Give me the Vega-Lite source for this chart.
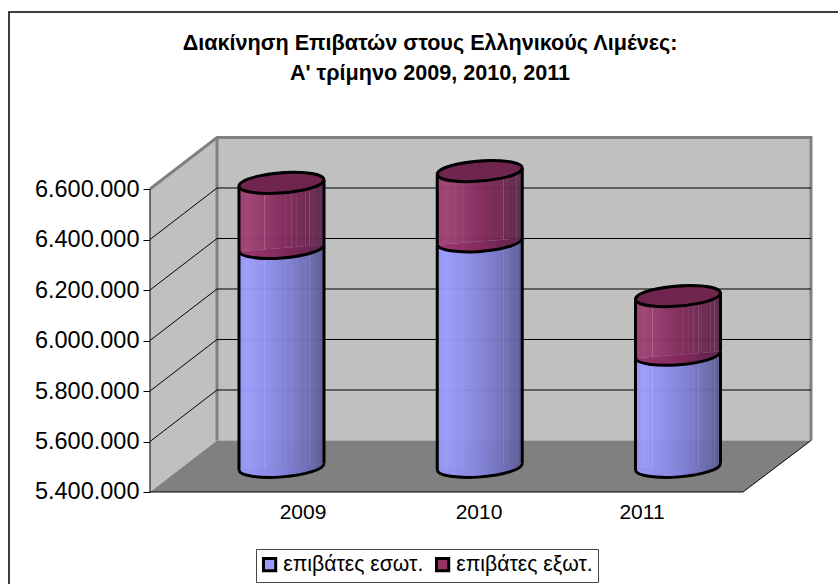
{
"$schema":"https://vega.github.io/schema/vega-lite/v6.json",
"width":838,"height":584,"padding":0,"autosize":"none","background":"white",
"config":{"view":{"stroke":null},"font":"Liberation Sans"},
"title":{"text":["Διακίνηση Επιβατών στους Ελληνικούς Λιμένες:","Α' τρίμηνο 2009, 2010, 2011"],"font":"Liberation Sans","fontSize":21.6,"fontWeight":"bold","color":"black","anchor":"middle","frame":"group","dx":11,"offset":-85,"lineHeight":30},
"datasets":{
"cylinders":[
{"x":2009,"series":"επιβάτες εσωτ.","start":5400000,"end":6267000},
{"x":2009,"series":"επιβάτες εξωτ.","start":6267000,"end":6525000},
{"x":2010,"series":"επιβάτες εσωτ.","start":5400000,"end":6293000},
{"x":2010,"series":"επιβάτες εξωτ.","start":6293000,"end":6572000},
{"x":2011,"series":"επιβάτες εσωτ.","start":5400000,"end":5844000},
{"x":2011,"series":"επιβάτες εξωτ.","start":5844000,"end":6077000}],
"bodies":[
{"c":"2009a","series":"επιβάτες εσωτ.","x":2008.7856,"y":6254000,"y2":5387000},
{"c":"2009a","series":"επιβάτες εσωτ.","x":2009.2144,"y":6280000,"y2":5413000},
{"c":"2009b","series":"επιβάτες εξωτ.","x":2008.7856,"y":6512000,"y2":6254000},
{"c":"2009b","series":"επιβάτες εξωτ.","x":2009.2144,"y":6538000,"y2":6280000},
{"c":"2010a","series":"επιβάτες εσωτ.","x":2009.7856,"y":6280000,"y2":5387000},
{"c":"2010a","series":"επιβάτες εσωτ.","x":2010.2144,"y":6306000,"y2":5413000},
{"c":"2010b","series":"επιβάτες εξωτ.","x":2009.7856,"y":6559000,"y2":6280000},
{"c":"2010b","series":"επιβάτες εξωτ.","x":2010.2144,"y":6585000,"y2":6306000},
{"c":"2011a","series":"επιβάτες εσωτ.","x":2010.7856,"y":5831000,"y2":5387000},
{"c":"2011a","series":"επιβάτες εσωτ.","x":2011.2144,"y":5857000,"y2":5413000},
{"c":"2011b","series":"επιβάτες εξωτ.","x":2010.7856,"y":6064000,"y2":5831000},
{"c":"2011b","series":"επιβάτες εξωτ.","x":2011.2144,"y":6090000,"y2":5857000}],
"sideWall":[{"x":2008.3367,"y":6600000,"y2":5400000},{"x":2008.6747,"y":6804000,"y2":5604000}],
"backWall":[{"x":2008.6747,"y":6804000,"y2":5604000},{"x":2011.6709,"y":6804000,"y2":5604000}],
"floor":[{"x":2008.3367,"y":5400000,"y2":5400000},{"x":2008.6747,"y":5604000,"y2":5400000},{"x":2011.3279,"y":5604000,"y2":5400000},{"x":2011.6709,"y":5604000,"y2":5604000}],
"grid":[
{"v":6400000,"x":2008.3367,"y":6400000},{"v":6400000,"x":2008.6747,"y":6604000},{"v":6400000,"x":2011.6709,"y":6604000},
{"v":6200000,"x":2008.3367,"y":6200000},{"v":6200000,"x":2008.6747,"y":6404000},{"v":6200000,"x":2011.6709,"y":6404000},
{"v":6000000,"x":2008.3367,"y":6000000},{"v":6000000,"x":2008.6747,"y":6204000},{"v":6000000,"x":2011.6709,"y":6204000},
{"v":5800000,"x":2008.3367,"y":5800000},{"v":5800000,"x":2008.6747,"y":6004000},{"v":5800000,"x":2011.6709,"y":6004000},
{"v":5600000,"x":2008.3367,"y":5600000},{"v":5600000,"x":2008.6747,"y":5804000},{"v":5600000,"x":2011.6709,"y":5804000}],
"wallEdge":[
{"k":"outer","o":1,"x":2008.3367,"y":6600000},{"k":"outer","o":2,"x":2008.6747,"y":6804000},{"k":"outer","o":3,"x":2011.6709,"y":6804000},{"k":"outer","o":4,"x":2011.6709,"y":5604000},
{"k":"corner","o":1,"x":2008.6747,"y":6804000},{"k":"corner","o":2,"x":2008.6747,"y":5604000}],
"floorEdge":[
{"k":"a","o":1,"x":2008.3367,"y":6600000},{"k":"a","o":2,"x":2008.3367,"y":5400000},{"k":"a","o":3,"x":2011.3279,"y":5400000},{"k":"a","o":4,"x":2011.6709,"y":5604000}],
"frame":[{"o":1,"x":2007.6255,"y":5035643},{"o":2,"x":2007.6255,"y":7300992},{"o":3,"x":2011.8071,"y":7300992}],
"yearLabels":[{"x":2009.1085,"y":5316830,"label":"2009"},{"x":2009.9962,"y":5316830,"label":"2010"},{"x":2010.8184,"y":5316830,"label":"2011"}]
},
"encoding":{
"x":{"field":"x","type":"quantitative","axis":null,"scale":{"domain":[2007.5801,2011.8071],"nice":false,"zero":false}},
"y":{"field":"y","type":"quantitative","scale":{"domain":[5035643,7348517],"nice":false,"zero":false},
"axis":{"title":null,"orient":"left","offset":-150,"domain":false,"grid":false,"values":[5400000,5600000,5800000,6000000,6200000,6400000,6600000],"labelExpr":"replace(format(datum.value,',d'),/,/g,'.')","labelFont":"Liberation Sans","labelFontSize":23.5,"labelColor":"black","labelPadding":4,"tickColor":"black","tickSize":7,"tickWidth":1}}
},
"layer":[
{"data":{"name":"frame"},"mark":{"type":"line","color":"black","strokeWidth":1.5},"encoding":{"order":{"field":"o","type":"quantitative"}}},
{"data":{"name":"sideWall"},"mark":{"type":"area","color":"#c0c0c0"},"encoding":{"y2":{"field":"y2"}}},
{"data":{"name":"backWall"},"mark":{"type":"area","color":"#c0c0c0"},"encoding":{"y2":{"field":"y2"}}},
{"data":{"name":"floor"},"mark":{"type":"area","color":"#808080"},"encoding":{"y2":{"field":"y2"}}},
{"data":{"name":"wallEdge"},"mark":{"type":"line","color":"#808080","strokeWidth":3},"encoding":{"detail":{"field":"k"},"order":{"field":"o","type":"quantitative"}}},
{"data":{"name":"grid"},"mark":{"type":"line","color":"black","strokeWidth":1},"encoding":{"detail":{"field":"v"}}},
{"data":{"name":"floorEdge"},"mark":{"type":"line","color":"black","strokeWidth":1},"encoding":{"detail":{"field":"k"},"order":{"field":"o","type":"quantitative"}}},
{"data":{"name":"yearLabels"},"mark":{"type":"text","font":"Liberation Sans","fontSize":21,"color":"black","align":"center","baseline":"middle"},"encoding":{"text":{"field":"label"}}},
{"data":{"name":"cylinders"},"mark":{"type":"point","filled":true,"size":0,"opacity":1},
 "encoding":{"y":{"field":"end"},"color":{"field":"series","type":"nominal","scale":{"domain":["επιβάτες εσωτ.","επιβάτες εξωτ."],"range":["#9999ff","#993366"]},
 "legend":{"title":null,"orient":"none","legendX":256,"legendY":549,"direction":"horizontal","columns":2,"padding":5,"columnPadding":6,"fillColor":"white","strokeColor":"#444444","symbolType":"square","symbolSize":150,"symbolStrokeColor":"black","symbolStrokeWidth":3,"symbolOpacity":1,"symbolOffset":-2,"labelFont":"Liberation Sans","labelFontSize":21.2,"labelColor":"black","labelOffset":3,"labelLimit":300}}}},
{"data":{"name":"cylinders"},"transform":[{"filter":"datum.series==='επιβάτες εσωτ.'"}],
 "mark":{"type":"point","filled":true,"shape":"M-0.997,0.077A1,0.235,-4.4,0,0,0.997,-0.077Z","size":7225,"yOffset":-25,"strokeWidth":0,"opacity":1,
  "fill":{"gradient":"linear","x1":0,"y1":0,"x2":1,"y2":0,"stops":[{"offset":0,"color":"#9a9aff"},{"offset":0.5,"color":"#8585dd"},{"offset":0.85,"color":"#6a6ab0"},{"offset":1,"color":"#5a5a90"}]}},
 "encoding":{"y":{"field":"start"}}},
{"data":{"name":"bodies"},"transform":[{"filter":"datum.series==='επιβάτες εσωτ.'"}],
 "mark":{"type":"area","yOffset":-25,"y2Offset":-25,"opacity":0.95,
  "color":{"gradient":"linear","x1":0,"y1":0,"x2":1,"y2":0,"stops":[{"offset":0,"color":"#9494f4"},{"offset":0.1,"color":"#9c9cff"},
  {"offset":0.195,"color":"#9696f6"},{"offset":0.2,"color":"#a6a6ff"},{"offset":0.205,"color":"#9696f6"},
  {"offset":0.295,"color":"#9191ee"},{"offset":0.3,"color":"#a0a0f8"},{"offset":0.305,"color":"#9191ee"},
  {"offset":0.545,"color":"#8181d7"},{"offset":0.55,"color":"#9090e0"},{"offset":0.555,"color":"#8181d7"},
  {"offset":0.615,"color":"#7c7cce"},{"offset":0.62,"color":"#8c8cd8"},{"offset":0.625,"color":"#7c7cce"},
  {"offset":0.675,"color":"#7777c6"},{"offset":0.68,"color":"#8787d0"},{"offset":0.685,"color":"#7777c6"},
  {"offset":0.735,"color":"#7373be"},{"offset":0.74,"color":"#8383c8"},{"offset":0.745,"color":"#7373be"},
  {"offset":0.775,"color":"#6f6fb9"},{"offset":0.78,"color":"#8080c4"},{"offset":0.785,"color":"#6f6fb9"},
  {"offset":0.825,"color":"#6c6cb3"},{"offset":0.83,"color":"#7e7ebd"},{"offset":0.835,"color":"#6c6cb3"},
  {"offset":0.875,"color":"#6767aa"},{"offset":0.88,"color":"#7878b4"},{"offset":0.885,"color":"#6767aa"},
  {"offset":0.925,"color":"#61619f"},{"offset":0.93,"color":"#7272a8"},{"offset":0.935,"color":"#61619f"},
  {"offset":1,"color":"#5a5a90"}]}},
 "encoding":{"y2":{"field":"y2"},"detail":{"field":"c"}}},
{"data":{"name":"cylinders"},"transform":[{"filter":"datum.series==='επιβάτες εσωτ.'"}],
 "mark":{"type":"point","filled":false,"shape":"M-0.997,0.077A1,0.235,-4.4,0,0,0.997,-0.077","size":7225,"yOffset":-25,"stroke":"black","strokeWidth":3,"opacity":1},
 "encoding":{"y":{"field":"start"}}},
{"data":{"name":"cylinders"},"transform":[{"filter":"datum.series==='επιβάτες εξωτ.'"}],
 "mark":{"type":"point","filled":true,"shape":"M-0.997,0.077A1,0.235,-4.4,0,0,0.997,-0.077Z","size":7225,"yOffset":-25,"strokeWidth":0,"opacity":1,
  "fill":{"gradient":"linear","x1":0,"y1":0,"x2":1,"y2":0,"stops":[{"offset":0,"color":"#9c3a70"},{"offset":0.5,"color":"#842a5c"},{"offset":0.85,"color":"#68264f"},{"offset":1,"color":"#5c2a50"}]}},
 "encoding":{"y":{"field":"start"}}},
{"data":{"name":"bodies"},"transform":[{"filter":"datum.series==='επιβάτες εξωτ.'"}],
 "mark":{"type":"area","yOffset":-25,"y2Offset":-25,"opacity":0.96,
  "color":{"gradient":"linear","x1":0,"y1":0,"x2":1,"y2":0,"stops":[{"offset":0,"color":"#993a6e"},{"offset":0.1,"color":"#a04275"},
  {"offset":0.195,"color":"#993c6f"},{"offset":0.2,"color":"#b0608c"},{"offset":0.205,"color":"#993c6f"},
  {"offset":0.295,"color":"#923669"},{"offset":0.3,"color":"#aa5c86"},{"offset":0.305,"color":"#923669"},
  {"offset":0.545,"color":"#80295a"},{"offset":0.55,"color":"#9a5078"},{"offset":0.555,"color":"#80295a"},
  {"offset":0.615,"color":"#7a2957"},{"offset":0.62,"color":"#965074"},{"offset":0.625,"color":"#7a2957"},
  {"offset":0.675,"color":"#762855"},{"offset":0.68,"color":"#925072"},{"offset":0.685,"color":"#762855"},
  {"offset":0.735,"color":"#712753"},{"offset":0.74,"color":"#8e4e70"},{"offset":0.745,"color":"#712753"},
  {"offset":0.775,"color":"#6d2751"},{"offset":0.78,"color":"#8a4e6e"},{"offset":0.785,"color":"#6d2751"},
  {"offset":0.825,"color":"#69264f"},{"offset":0.83,"color":"#864e6c"},{"offset":0.835,"color":"#69264f"},
  {"offset":0.875,"color":"#66274f"},{"offset":0.88,"color":"#82506c"},{"offset":0.885,"color":"#66274f"},
  {"offset":0.925,"color":"#62284f"},{"offset":0.93,"color":"#7e526c"},{"offset":0.935,"color":"#62284f"},
  {"offset":1,"color":"#5c2a50"}]}},
 "encoding":{"y2":{"field":"y2"},"detail":{"field":"c"}}},
{"data":{"name":"cylinders"},"transform":[{"filter":"datum.series==='επιβάτες εξωτ.'"}],
 "mark":{"type":"point","filled":false,"shape":"M-0.997,0.077A1,0.235,-4.4,0,0,0.997,-0.077","size":7225,"yOffset":-25,"stroke":"black","strokeWidth":3,"opacity":1},
 "encoding":{"y":{"field":"start"}}},
{"data":{"name":"bodies"},"mark":{"type":"rule","color":"black","strokeWidth":3,"yOffset":-25,"y2Offset":-25},"encoding":{"y2":{"field":"y2"}}},
{"data":{"name":"cylinders"},"transform":[{"filter":"datum.series==='επιβάτες εξωτ.'"}],
 "mark":{"type":"point","filled":true,"shape":"M-0.997,0.077A1,0.235,-4.4,1,1,0.997,-0.077A1,0.235,-4.4,1,1,-0.997,0.077Z","size":7225,"yOffset":-25,"stroke":"black","strokeWidth":3,"fill":"#70254f","opacity":1},
 "encoding":{"y":{"field":"end"}}}
]
}
